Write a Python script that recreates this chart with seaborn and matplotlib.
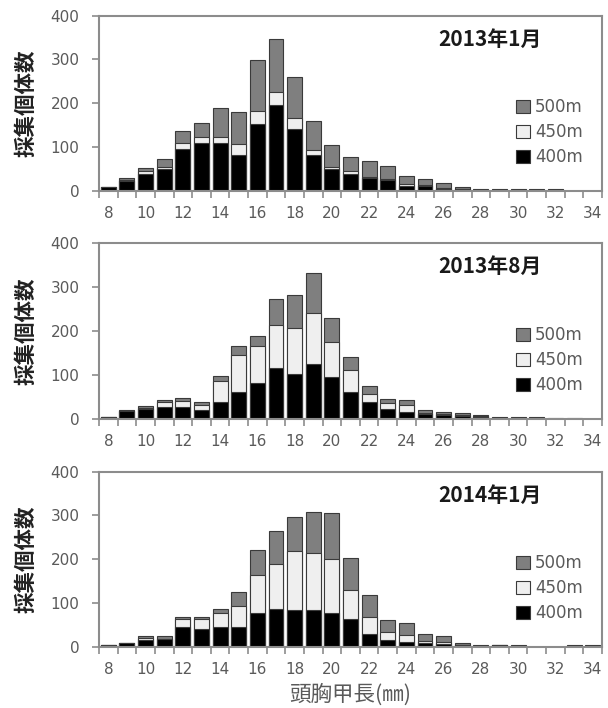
import numpy as np
import pandas as pd
import matplotlib
matplotlib.use("Agg")
import matplotlib.pyplot as plt
from matplotlib.patches import Patch
import seaborn as sns

# ---- data ----
lengths = list(range(8, 35))  # carapace length classes (mm)
tick_labels = [str(v) if v % 2 == 0 else "" for v in lengths]
titles = ["2013年1月", "2013年8月", "2014年1月"]
depths = ["500m", "450m", "400m"]

jan2013_400 = [8, 22, 39, 49, 96, 108, 108, 81, 152, 195, 142, 81, 49, 38, 28, 24, 11, 11, 5, 3, 1, 1, 1, 1, 1, 0, 0]
jan2013_450 = [0, 2, 5, 5, 12, 15, 15, 25, 30, 30, 25, 11, 5, 8, 4, 3, 4, 3, 2, 1, 0, 0, 0, 0, 0, 0, 0]
jan2013_500 = [0, 6, 8, 19, 28, 31, 66, 73, 116, 122, 93, 68, 51, 32, 36, 30, 19, 13, 10, 5, 2, 2, 2, 2, 2, 0, 0]

aug2013_400 = [4, 19, 23, 28, 28, 20, 39, 61, 83, 115, 102, 125, 96, 61, 38, 22, 17, 11, 9, 7, 5, 3, 2, 2, 1, 1, 0]
aug2013_450 = [0, 0, 1, 10, 13, 12, 48, 84, 83, 99, 106, 117, 80, 51, 20, 14, 15, 3, 2, 1, 1, 0, 0, 0, 0, 0, 0]
aug2013_500 = [0, 1, 6, 5, 6, 6, 12, 22, 23, 60, 74, 91, 55, 30, 18, 9, 11, 6, 6, 5, 3, 2, 2, 2, 2, 2, 0]

jan2014_400 = [5, 9, 15, 17, 44, 40, 46, 44, 76, 86, 84, 84, 78, 63, 28, 15, 11, 8, 6, 5, 2, 4, 2, 0, 0, 2, 2]
jan2014_450 = [0, 0, 5, 1, 19, 23, 30, 50, 88, 104, 135, 130, 123, 66, 39, 19, 16, 6, 5, 0, 0, 0, 0, 0, 0, 0, 0]
jan2014_500 = [0, 0, 4, 6, 6, 6, 10, 30, 57, 74, 78, 95, 105, 74, 51, 27, 28, 15, 13, 3, 2, 1, 1, 0, 0, 1, 1]

panels = [
    (jan2013_400, jan2013_450, jan2013_500),
    (aug2013_400, aug2013_450, aug2013_500),
    (jan2014_400, jan2014_450, jan2014_500),
]

# ---- style ----
sns.set_theme(style="white")
plt.rcParams["font.family"] = ["Noto Sans CJK JP", "DejaVu Sans"]

c500, c450, c400 = "#7f7f7f", "#efefef", "#000000"
edge = "#3a3a3a"
spine_c = "#8c8c8c"
txt_c = "#5a5a5a"
num_font = ["DejaVu Sans"]

fig = plt.figure(figsize=(6.08, 7.08), dpi=100)
W, H = 608, 708
ax_boxes = [(15.5, 190.7), (243.3, 419.0), (471.7, 646.7)]
left_px, right_px = 99, 602

order = [str(v) for v in lengths]
for i, ((v400, v450, v500), (top_px, bot_px)) in enumerate(zip(panels, ax_boxes)):
    ax = fig.add_axes([left_px / W, 1 - bot_px / H, (right_px - left_px) / W, (bot_px - top_px) / H])
    df = pd.DataFrame({"length": order,
                       "d400": v400, "d450": v450, "d500": v500})
    df["cum450"] = df["d400"] + df["d450"]
    df["cum500"] = df["cum450"] + df["d500"]
    for col, colr in [("cum500", c500), ("cum450", c450), ("d400", c400)]:
        sns.barplot(data=df, x="length", y=col, order=order, color=colr, saturation=1,
                    width=0.8, edgecolor=edge, linewidth=0.8, errorbar=None, ax=ax)
    ax.set_xlim(-0.5, len(lengths) - 0.5)
    ax.set_ylim(0, 400)
    ax.set_yticks([0, 100, 200, 300, 400])
    ax.set_xticks(range(len(lengths)))
    ax.set_xticklabels(tick_labels)
    ax.set_xticks(np.arange(-0.5, len(lengths), 1.0), minor=True)
    ax.tick_params(axis="x", which="major", length=0, pad=11, labelsize=11, labelcolor=txt_c)
    ax.tick_params(axis="x", which="minor", length=5, width=1.2, color=spine_c, direction="out", bottom=True)
    ax.tick_params(axis="y", which="major", length=5, width=1.2, color=spine_c, direction="out",
                   left=True, pad=9, labelsize=11, labelcolor=txt_c)
    for lab in ax.get_xticklabels() + ax.get_yticklabels():
        lab.set_family(num_font)
    for s in ax.spines.values():
        s.set_color(spine_c)
        s.set_linewidth(1.5)
    ax.set_ylabel("採集個体数", fontsize=15.5, fontweight="bold", color="#222222")
    ax.yaxis.set_label_coords(-0.145, 0.5)
    ax.yaxis.label.set_va("center")
    if i == 2:
        ax.set_xlabel("頭胸甲長(㎜)", fontsize=15.5, color=txt_c)
        ax.xaxis.set_label_coords(0.5, -0.276)
        ax.xaxis.label.set_va("center")
    else:
        ax.set_xlabel("")
    ax.text(0.778, 0.866, titles[i], transform=ax.transAxes, ha="center", va="center",
            fontsize=15, fontweight="bold", color="#1a1a1a")
    handles = [Patch(facecolor=c, edgecolor=edge, linewidth=0.8) for c in (c500, c450, c400)]
    ax.legend(handles, depths, loc="center left", bbox_to_anchor=(0.83, 0.335), frameon=False,
              borderaxespad=0, borderpad=0, handlelength=0.8, handleheight=0.85,
              handletextpad=0.3, labelspacing=0.42, labelcolor=txt_c,
              prop={"family": num_font, "size": 12})

fig.savefig("out.png", dpi=100)
